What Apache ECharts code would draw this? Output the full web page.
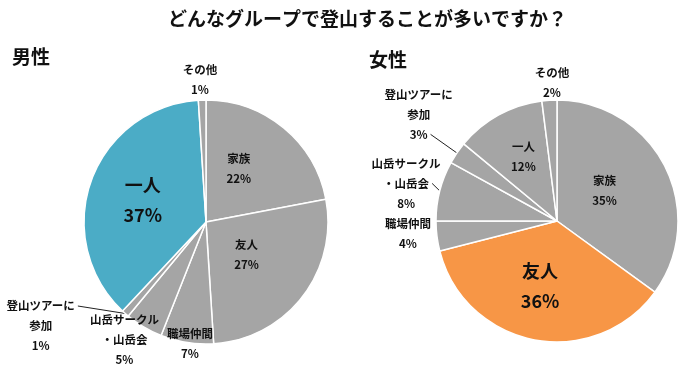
<!DOCTYPE html>
<html>
<head>
<meta charset="utf-8">
<script src="https://cdn.jsdelivr.net/npm/echarts@6/dist/echarts.min.js"></script>
<style>html,body{margin:0;padding:0;background:#fff;}#c{width:700px;height:382px;}</style>
</head>
<body>
<div id="c"></div>
<script>
// ---- data ----
const chartTitle = 'どんなグループで登山することが多いですか？';
const groupTitles = ['男性', '女性'];
const categories = ['家族', '友人', '職場仲間', '山岳サークル・山岳会', '登山ツアーに参加', '一人', 'その他'];
const categoryLabels = ['家族', '友人', '職場仲間', '山岳サークル\n・山岳会', '登山ツアーに\n参加', '一人', 'その他'];
const maleValues = [22, 27, 7, 5, 1, 37, 1];
const femaleValues = [35, 36, 4, 8, 3, 12, 2];

// ---- styles / layout ----
const FONT = '"Noto Sans CJK JP", "Noto Sans", sans-serif';
const GREY = '#a5a5a5', BLUE = '#4bacc6', ORANGE = '#f79646';
const SMALL = 11.5, SMALL_LH = 20, BIG = 18, BIG_LH = 30;
const maleStyle = {
  highlight: 5, color: BLUE,
  outside: [4],
  guideRow: { 4: 0 },
  offsets: [[-8,-4],[-10,-7],[-6,58],[-49,63],[-63,5],[-3,0],[-4,-78]]
};
const femaleStyle = {
  highlight: 1, color: ORANGE,
  outside: [3, 4],
  guideRow: { 3: 1, 4: 2 },
  offsets: [[-9,-2],[-5,3],[-86,5],[-9,-5],[-15,-33],[-3,-9],[-1,-75]]
};

const measureCtx = document.createElement('canvas').getContext('2d');
function textWidth(s, size) {
  measureCtx.font = 'bold ' + size + 'px ' + FONT;
  return measureCtx.measureText(s).width;
}

function buildData(values, st) {
  return values.map((v, i) => {
    const big = i === st.highlight;
    const outside = st.outside.indexOf(i) >= 0;
    return {
      name: categories[i],
      value: v,
      itemStyle: { color: big ? st.color : GREY },
      label: {
        show: true,
        position: outside ? 'outside' : 'inside',
        formatter: categoryLabels[i] + '\n{c}%',
        fontSize: big ? BIG : SMALL,
        lineHeight: big ? BIG_LH : SMALL_LH,
        fontWeight: 'bold',
        color: '#111',
        align: 'center',
        fontFamily: FONT
      },
      labelLine: { show: outside, length: 10, length2: 10, lineStyle: { color: '#222', width: 1 } }
    };
  });
}

function makeSeries(values, st, center, radius) {
  return {
    type: 'pie',
    center: center,
    radius: radius,
    startAngle: 90,
    clockwise: true,
    avoidLabelOverlap: false,
    animation: false,
    itemStyle: { borderColor: '#fff', borderWidth: 1.5 },
    emphasis: { disabled: true },
    data: buildData(values, st),
    labelLayout: function (p) {
      const i = p.dataIndex;
      const o = st.offsets[i];
      const res = { dx: o[0], dy: o[1], align: 'center' };
      const row = st.guideRow[i];
      if (row != null && p.labelLinePoints) {
        // default anchor of right-aligned outside label
        const ax = p.labelRect.x + p.labelRect.width;
        const ay = p.labelRect.y + p.labelRect.height / 2;
        const cx = ax + o[0], cy = ay + o[1];
        const lines = (categoryLabels[i] + '\n' + values[i] + '%').split('\n');
        const ly = cy + (row - (lines.length - 1) / 2) * SMALL_LH;
        const lx = cx + textWidth(lines[row], SMALL) / 2 + 3;
        const start = p.labelLinePoints[0];
        res.labelLinePoints = [start, [lx, ly], [lx, ly]];
      }
      return res;
    }
  };
}

const chart = echarts.init(document.getElementById('c'), null, { renderer: 'canvas' });
chart.setOption({
  backgroundColor: '#fff',
  animation: false,
  title: [
    { text: chartTitle, left: 163, top: 4, textStyle: { fontSize: 19, fontWeight: 'bold', color: '#111', fontFamily: FONT } },
    { text: groupTitles[0], left: 7, top: 42, textStyle: { fontSize: 19, fontWeight: 'bold', color: '#111', fontFamily: FONT } },
    { text: groupTitles[1], left: 364, top: 45, textStyle: { fontSize: 19, fontWeight: 'bold', color: '#111', fontFamily: FONT } }
  ],
  series: [
    makeSeries(maleValues, maleStyle, [206, 222], 122),
    makeSeries(femaleValues, femaleStyle, [557, 221], 121)
  ]
});
</script>
</body>
</html>
